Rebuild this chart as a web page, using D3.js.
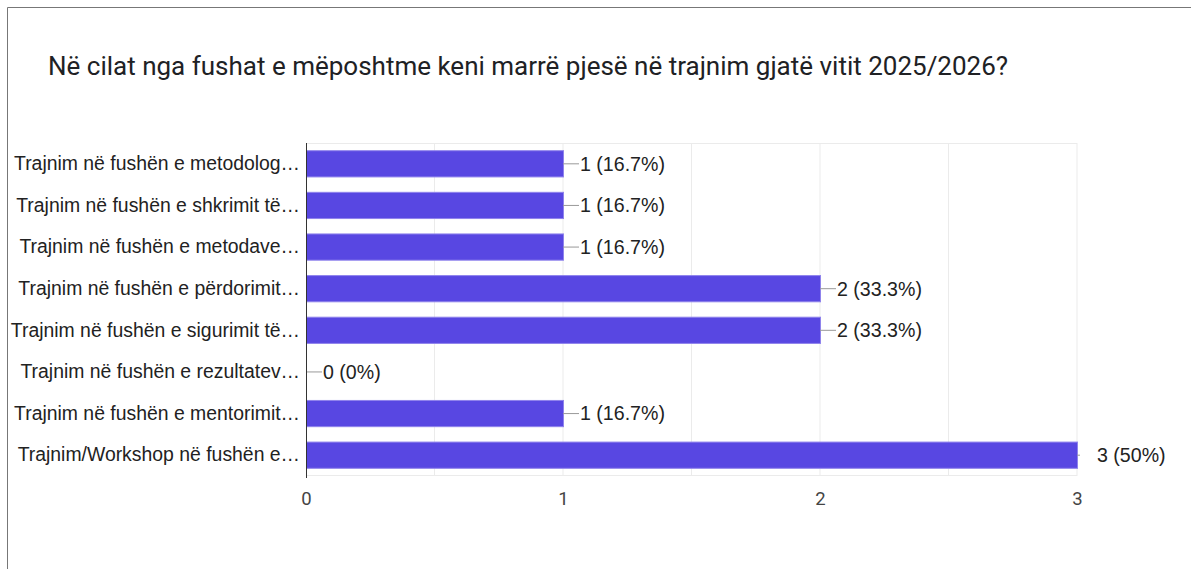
<!DOCTYPE html>
<html>
<head>
<meta charset="utf-8">
<script src="https://cdn.jsdelivr.net/npm/d3@7"></script>
<style>
  html, body { margin: 0; padding: 0; background: #fff; }
  svg { display: block; }
</style>
</head>
<body>
<svg id="chart" width="1191" height="569"></svg>
<script>
// Horizontal bar chart: survey answers (count + percent)
const title = "Në cilat nga fushat e mëposhtme keni marrë pjesë në trajnim gjatë vitit 2025/2026?";

const categories = [
  "Trajnim në fushën e metodolog…",
  "Trajnim në fushën e shkrimit të…",
  "Trajnim në fushën e metodave…",
  "Trajnim në fushën e përdorimit…",
  "Trajnim në fushën e sigurimit të…",
  "Trajnim në fushën e rezultatev…",
  "Trajnim në fushën e mentorimit…",
  "Trajnim/Workshop në fushën e…",
];
const counts = [1, 1, 1, 2, 2, 0, 1, 3];
const percents = ["16.7%", "16.7%", "16.7%", "33.3%", "33.3%", "0%", "16.7%", "50%"];
const xTicks = [0, 1, 2, 3];

const W = 1191, H = 569;
const margin = { left: 306, right: 114, top: 143, bottom: 93 };
const innerW = W - margin.left - margin.right;
const innerH = H - margin.top - margin.bottom;

const svg = d3.select("#chart");

// outer frame (only top/left visible in the crop)
svg.append("path")
  .attr("d", `M7.5,${H} V7.5 H${W}`)
  .attr("fill", "none")
  .attr("stroke", "#777")
  .attr("stroke-width", 1);

svg.append("text")
  .attr("x", 48).attr("y", 75)
  .attr("font-family", "Roboto, sans-serif")
  .attr("font-size", "26px")
  .attr("fill", "#202124")
  .text(title);

const data = categories.map((c, i) => ({ cat: c, n: counts[i], pct: percents[i] }));

const x = d3.scaleLinear().domain([0, 3]).range([0, innerW]);
const y = d3.scaleBand().domain(categories).range([0, innerH]).paddingInner(0.37).paddingOuter(0.185);

const g = svg.append("g").attr("transform", `translate(${margin.left},${margin.top})`);

// gridlines every 0.5
g.selectAll("line.grid")
  .data(d3.range(0.5, 3.01, 0.5))
  .join("line")
  .attr("class", "grid")
  .attr("x1", d => x(d)).attr("x2", d => x(d))
  .attr("y1", 0).attr("y2", innerH)
  .attr("stroke", "#ebebeb");

g.append("line").attr("x1", 0).attr("x2", innerW).attr("y1", 0.5).attr("y2", 0.5).attr("stroke", "#ebebeb");
g.append("line").attr("x1", 0).attr("x2", innerW).attr("y1", innerH - 0.5).attr("y2", innerH - 0.5).attr("stroke", "#ebebeb");

// bars
g.selectAll("rect.bar")
  .data(data.filter(d => d.n > 0))
  .join("rect")
  .attr("class", "bar")
  .attr("x", 0.5)
  .attr("y", d => y(d.cat))
  .attr("width", d => x(d.n))
  .attr("height", y.bandwidth())
  .attr("fill", "#5847e2")
  .attr("stroke", "#8f83ec")
  .attr("stroke-width", 1);

// connector + value labels
const lab = g.selectAll("g.lab").data(data).join("g").attr("class", "lab")
  .attr("transform", d => `translate(${x(d.n)},${y(d.cat) + y.bandwidth() / 2})`);

lab.append("line")
  .attr("x1", 0).attr("x2", d => d.n === 3 ? 3 : 16)
  .attr("y1", 0).attr("y2", 0)
  .attr("stroke", "#999");

lab.append("text")
  .attr("x", d => d.n === 3 ? 20 : 17)
  .attr("dy", "0.35em")
  .attr("font-family", "Liberation Sans, Arial, sans-serif")
  .attr("font-size", "19.6px")
  .attr("fill", "#222")
  .text(d => `${d.n} (${d.pct})`);

// category axis (zero line)
const yAxis = g.append("g").call(d3.axisLeft(y).tickSize(0).tickPadding(6));
yAxis.select(".domain").attr("stroke", "#333").attr("d", `M0.5,0V${innerH + 2}`);
yAxis.selectAll("text")
  .attr("font-family", "Liberation Sans, Arial, sans-serif")
  .attr("font-size", "19.4px")
  .attr("fill", "#222");

// value axis
const xAxis = g.append("g").attr("transform", `translate(0,${innerH})`)
  .call(d3.axisBottom(x).tickValues(xTicks).tickFormat(d3.format("d")).tickSize(0).tickPadding(16));
xAxis.select(".domain").remove();
xAxis.selectAll("text")
  .attr("font-family", "Roboto, sans-serif")
  .attr("font-size", "18.5px")
  .attr("fill", "#444");
</script>
</body>
</html>
